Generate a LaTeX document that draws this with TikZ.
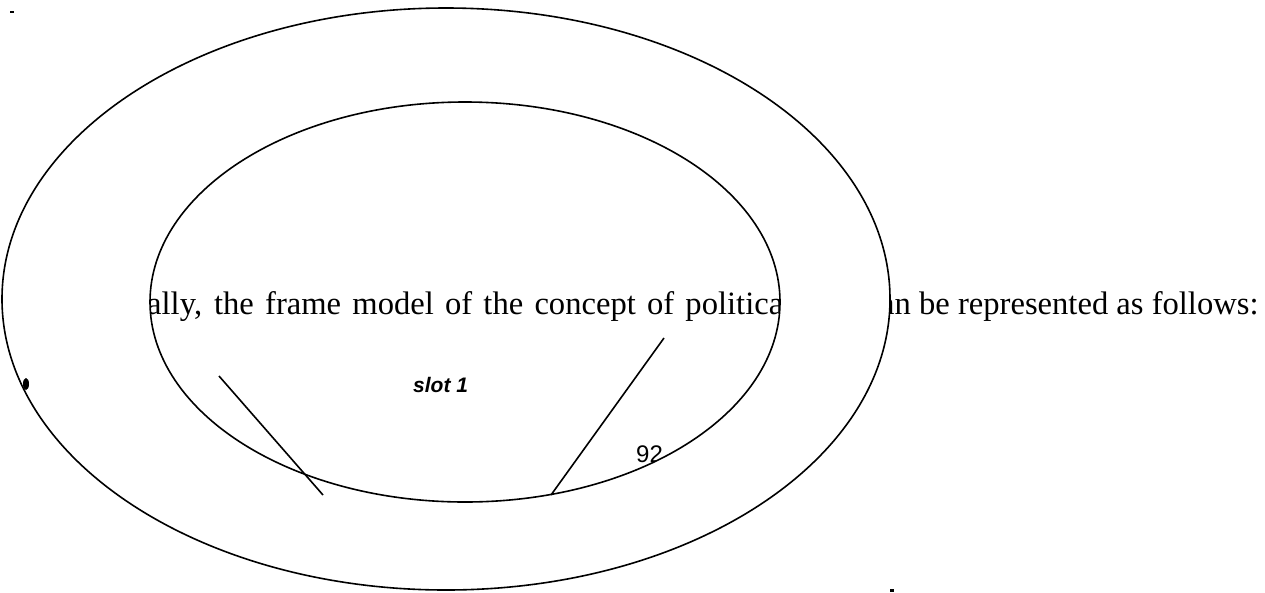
\documentclass[tikz,border=0pt]{standalone}
\usepackage{fontspec}
\setmainfont{Liberation Serif}
\newfontfamily\arialfont{Liberation Sans}
\begin{document}
\begin{tikzpicture}[x=1pt,y=-1pt,
  ring/.style={line width=1.6pt},
  slotline/.style={line width=1.6pt},
  bodytext/.style={inner sep=0pt, anchor=base west, font=\fontsize{32.6}{39}\selectfont},
  pagenum/.style={inner sep=0pt, anchor=base west, font=\arialfont\fontsize{24}{28}\selectfont},
  slotlabel/.style={inner sep=0pt, anchor=base west, font=\arialfont\bfseries\itshape\fontsize{21}{24}\selectfont}]
\useasboundingbox (0,0) rectangle (1265,592);

% running text behind the frame
\node[bodytext] (lefttext) at (147,314) {\makebox[636pt][s]{ally, the frame model of the concept of politica}};
\node[bodytext] (righttext) at (880,314) {an be represented as follows:};
\node[pagenum] (page) at (636,462) {92};

% white ring between the two ellipses
\fill[white, even odd rule] (446,299) ellipse [x radius=444pt, y radius=291pt]
                            (465,302) ellipse [x radius=315pt, y radius=200pt];

% the two frame ellipses
\draw[ring] (446,299) ellipse [x radius=444pt, y radius=291pt];
\draw[ring] (465,302) ellipse [x radius=315pt, y radius=200pt];

% slot label and slot lines
\node[slotlabel] (slot) at (413,392) {slot 1};
\coordinate (la) at (219,376);
\coordinate (lb) at (323,495);
\coordinate (ra) at (664,338);
\coordinate (rb) at (551,495);
\draw[slotline] (la) -- (lb);
\draw[slotline] (ra) -- (rb);

% small marks
\fill (26,384) ellipse [x radius=3pt, y radius=6pt];
\fill (10,11) rectangle (14,13);
\fill (890,589) rectangle (894,592);
\end{tikzpicture}
\end{document}
